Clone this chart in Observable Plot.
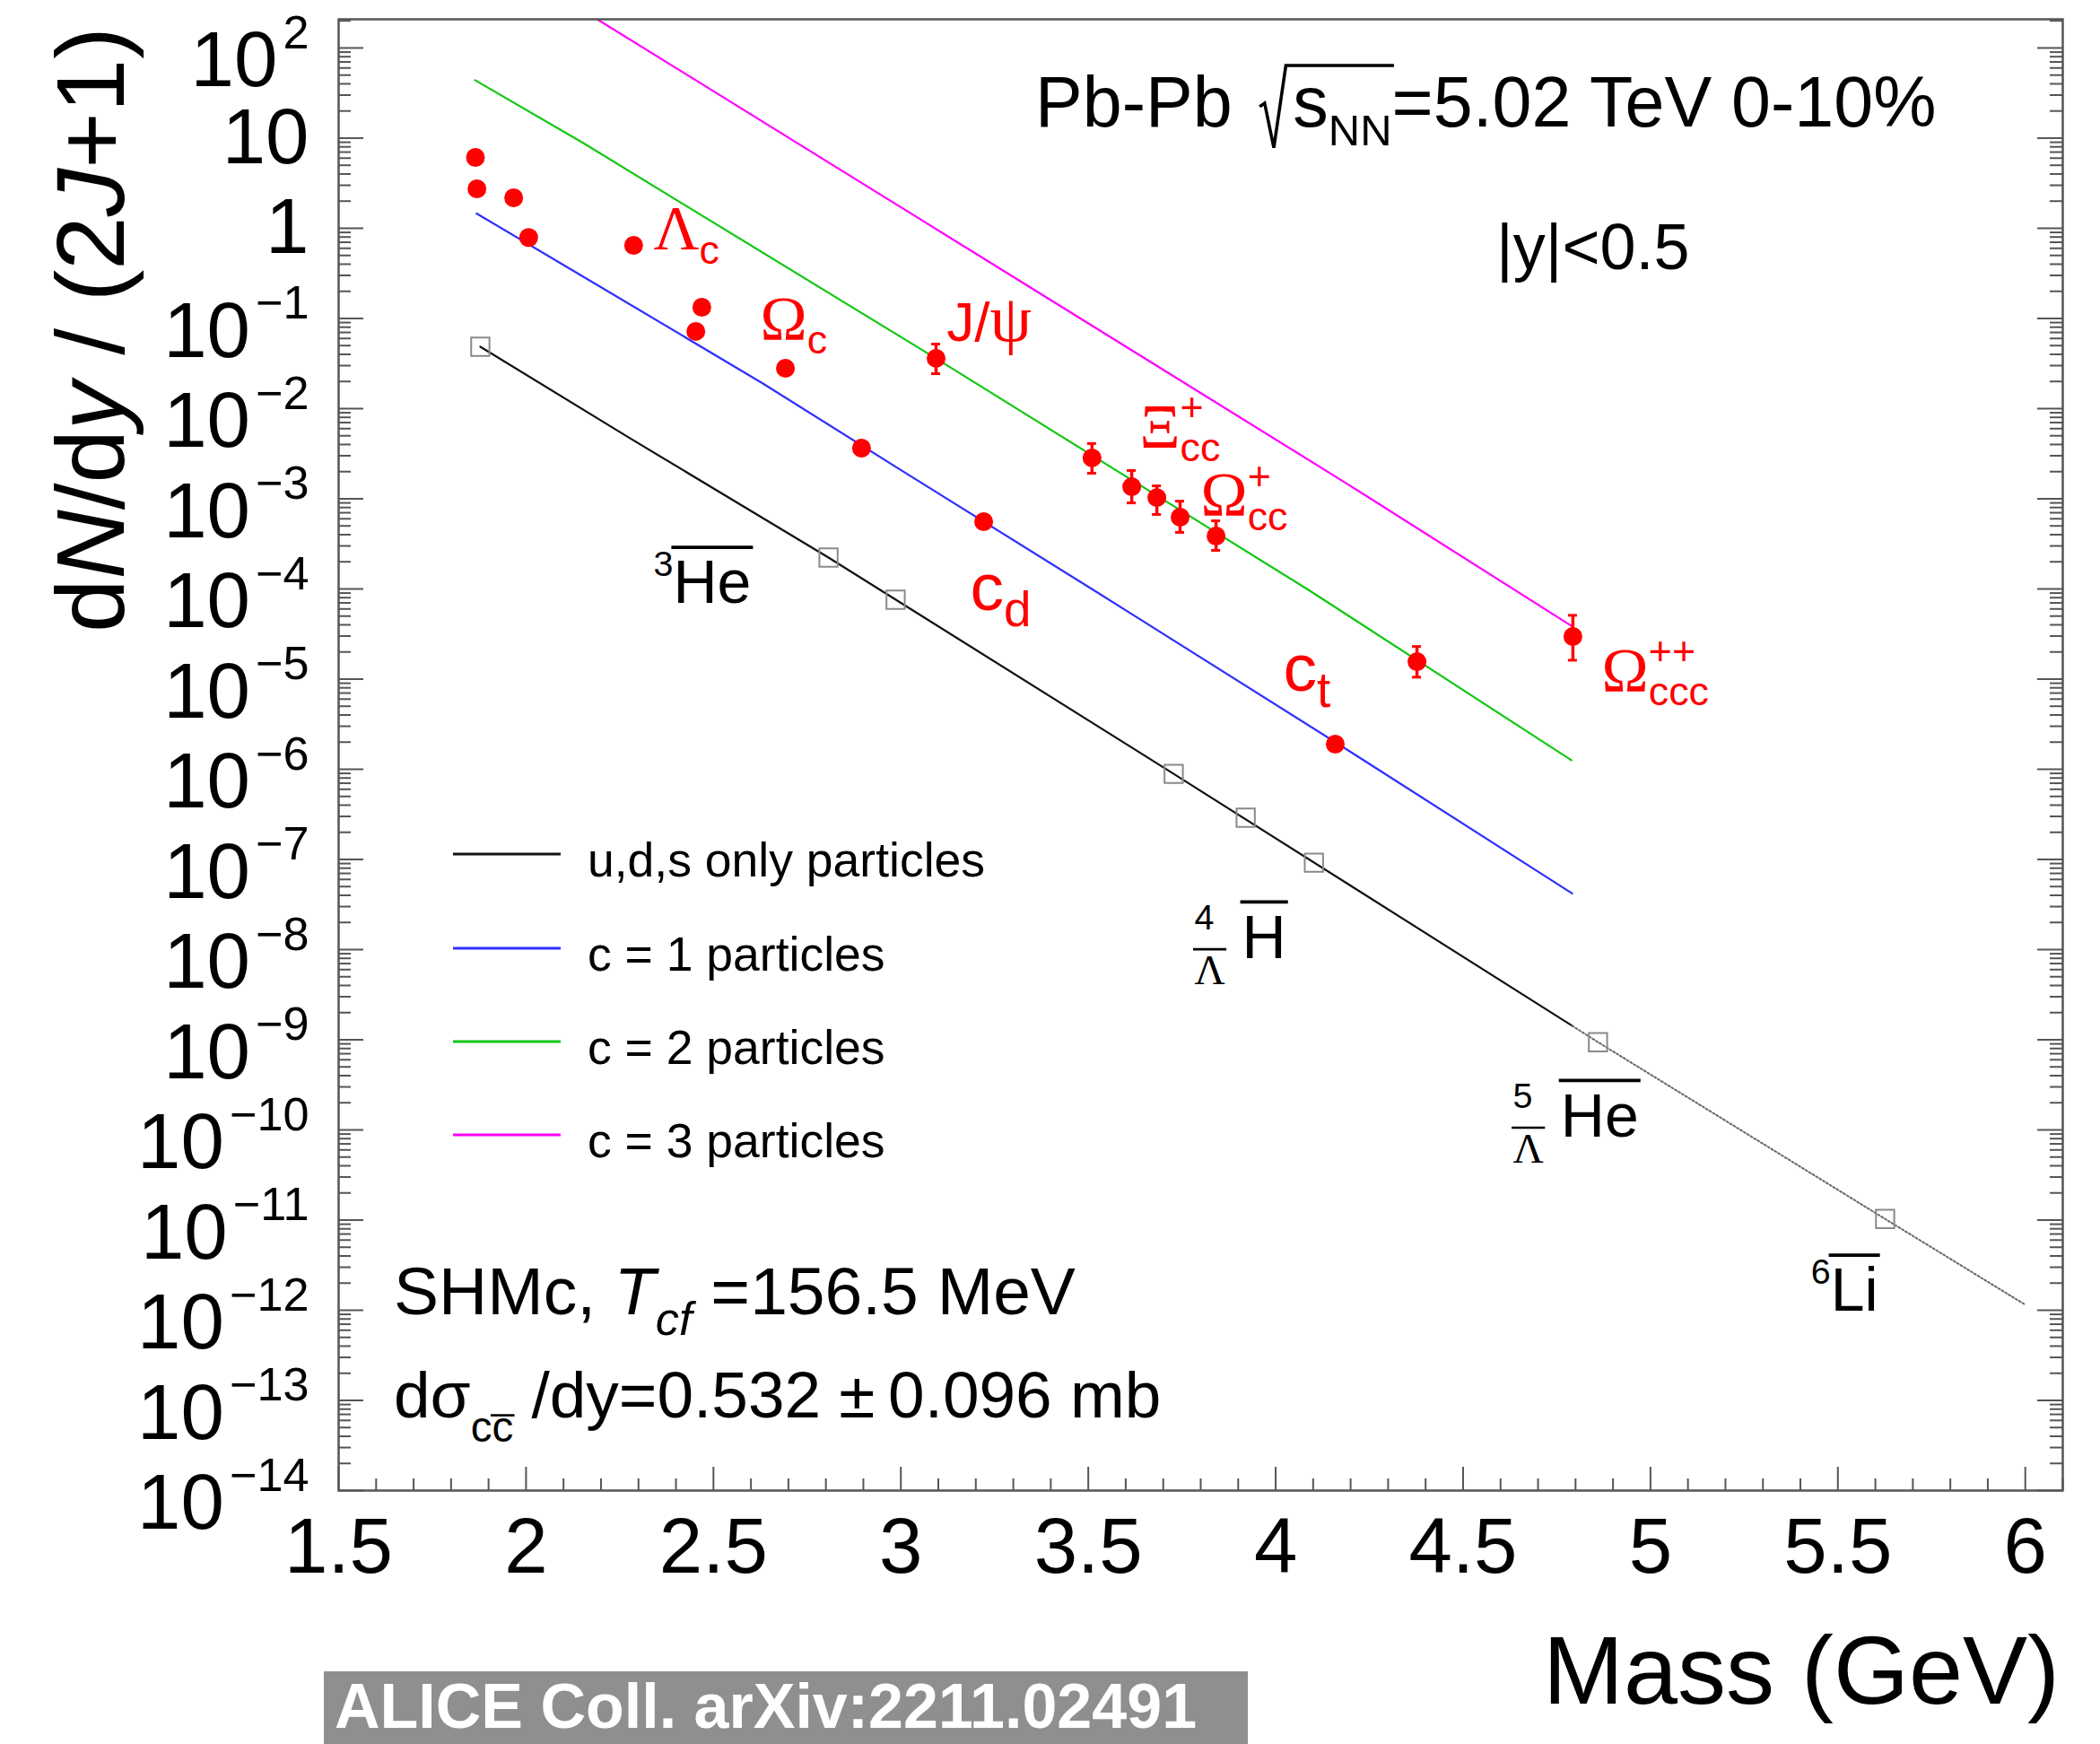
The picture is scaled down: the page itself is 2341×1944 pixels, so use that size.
<!DOCTYPE html>
<html>
<head>
<meta charset="utf-8">
<script src="https://cdn.jsdelivr.net/npm/d3@7"></script>
<script src="https://cdn.jsdelivr.net/npm/@observablehq/plot@0.6"></script>
<style>
html, body { margin: 0; padding: 0; background: #fff; }
#chart { position: relative; width: 2341px; height: 1944px; overflow: hidden; }
</style>
</head>
<body>
<div id="chart"></div>
<script>
// ---------------- data ----------------
// measured hadron yields (red points)
const redMass  = [1.865, 1.869, 1.967, 2.007, 2.287, 2.453, 2.469, 2.692, 2.895, 3.094, 3.221, 3.510, 3.616, 3.683, 3.745, 3.841, 4.159, 4.377, 4.793];
const redValue = [6.1, 2.74, 2.18, 0.79, 0.647, 0.0718, 0.133, 0.028, 3.65e-3, 0.0361, 5.57e-4, 2.84e-3, 1.36e-3, 1.03e-3, 6.25e-4, 3.86e-4, 1.9e-6, 1.56e-5, 2.97e-5];
// error bars
const errMass = [3.094, 3.510, 3.616, 3.683, 3.745, 3.841, 4.377, 4.793];
const errLow  = [0.0244, 1.92e-3, 9.0e-4, 6.7e-4, 4.24e-4, 2.68e-4, 1.05e-5, 1.62e-5];
const errHigh = [0.052, 4.1e-3, 2.06e-3, 1.39e-3, 9.4e-4, 5.7e-4, 2.3e-5, 5.1e-5];
// light (anti)nuclei (open squares)
const nucMass  = [1.878, 2.807, 2.986, 3.728, 3.920, 4.102, 4.860, 5.626];
const nucValue = [0.0486, 2.23e-4, 7.6e-5, 8.9e-7, 2.9e-7, 9.2e-8, 9.4e-10, 1.03e-11];
// model curves
const udsMass     = [1.878, 2.273, 2.807, 3.728, 4.791];
const udsValue    = [0.0486, 4.81e-3, 2.23e-4, 8.9e-7, 1.43e-9];
const udsExtMass  = [4.791, 4.860, 5.626, 5.997];
const udsExtValue = [1.43e-9, 9.4e-10, 1.03e-11, 1.17e-12];
const c1Mass  = [1.868, 2.153, 2.632, 2.991, 3.518, 4.159, 4.791];
const c1Value = [1.46, 0.290, 0.0190, 2.20e-3, 9.5e-5, 2.0e-6, 4.2e-8];
const c2Mass  = [1.864, 2.153, 3.094, 4.092, 4.789];
const c2Value = [43.9, 8.8, 0.036, 9.5e-5, 1.26e-6];
const c3Mass  = [2.190, 3.230, 4.188, 4.789];
const c3Value = [208, 0.438, 1.49e-3, 3.9e-5];
// legend
const legendLabels = ["u,d,s only particles", "c = 1 particles", "c = 2 particles", "c = 3 particles"];
// particle labels
const hadLabelText  = ["Λ_{c}", "Ω_{c}", "J/ψ", "Ξ_{cc}^{+}", "Ω_{cc}^{+}", "c_{d}", "c_{t}", "Ω_{ccc}^{++}"];
const hadLabelMass  = [2.340, 2.625, 3.122, 3.637, 3.800, 3.185, 4.020, 4.870];
const hadLabelValue = [0.577, 0.0583, 0.0560, 3.73e-3, 6.4e-4, 5.9e-5, 7.5e-6, 7.3e-6];
const nucLabelText  = ["^{3}#bar{He}", "^{4}_{#bar{Λ}} #bar{H}", "^{5}_{#bar{Λ}} #bar{He}", "^{6}#bar{Li}"];
const nucLabelMass  = [2.340, 3.783, 4.633, 5.428];
const nucLabelValue = [6.93e-5, 8.1e-9, 8.5e-11, 9.8e-13];
// axis ticks
const xMajor = [1.5, 2, 2.5, 3, 3.5, 4, 4.5, 5, 5.5, 6];
const xMinor = [1.6,1.7,1.8,1.9, 2.1,2.2,2.3,2.4, 2.6,2.7,2.8,2.9, 3.1,3.2,3.3,3.4, 3.6,3.7,3.8,3.9, 4.1,4.2,4.3,4.4, 4.6,4.7,4.8,4.9, 5.1,5.2,5.3,5.4, 5.6,5.7,5.8,5.9, 6.1];
const yExponents = [2, 1, 0, -1, -2, -3, -4, -5, -6, -7, -8, -9, -10, -11, -12, -13, -14];

// ---------------- tables ----------------
const red = redMass.map((m, i) => ({m, v: redValue[i]}));
const errs = errMass.map((m, i) => ({m, lo: errLow[i], hi: errHigh[i]}));
const nuc = nucMass.map((m, i) => ({m, v: nucValue[i]}));
const uds = udsMass.map((m, i) => ({m, v: udsValue[i]}));
const udsExt = udsExtMass.map((m, i) => ({m, v: udsExtValue[i]}));
const c1 = c1Mass.map((m, i) => ({m, v: c1Value[i]}));
const c2 = c2Mass.map((m, i) => ({m, v: c2Value[i]}));
const c3 = c3Mass.map((m, i) => ({m, v: c3Value[i]}));
const hadLabels = hadLabelText.map((t, i) => ({t, m: hadLabelMass[i], v: hadLabelValue[i]}));
const nucLabels = nucLabelText.map((t, i) => ({t, m: nucLabelMass[i], v: nucLabelValue[i]}));
const yMajor = yExponents.map(e => Math.pow(10, e));
const yMinor = [];
for (const e of yExponents) for (let k = 2; k <= 9; k++) { const v = k * Math.pow(10, e); if (v <= 208) yMinor.push(v); }

// ---------------- styles / layout ----------------
const FONT = "'Liberation Sans', Arial, Helvetica, sans-serif";
const SERIF = "'Liberation Serif', 'Times New Roman', serif";
const FRAME = "#555";
const COLORS = ["#111111", "#2f2fff", "#12c812", "#ff00ff"];
const W = 2341, H = 1944;
const mL = 377, mR = 42, mT = 21, mB = 283;
const iW = W - mL - mR, iH = H - mT - mB;

const fmtPow = d => {
  const e = Math.round(Math.log10(d));
  if (e === 0) return "1";
  if (e === 1) return "10";
  return "10^{" + (e < 0 ? "\u2212" + (-e) : e) + "}";
};

const plot = Plot.plot({
  width: W, height: H,
  marginLeft: mL, marginRight: mR, marginTop: mT, marginBottom: mB,
  style: {fontFamily: FONT, fontSize: "87px", color: "#000", background: "transparent", overflow: "visible"},
  x: {domain: [1.5, 6.1], ticks: xMajor, tickFormat: d => String(d), tickSize: 0, tickPadding: 30, label: null},
  y: {type: "log", domain: [1e-14, 208], ticks: yMajor, tickFormat: fmtPow, tickSize: 0, tickPadding: 33, label: null},
  marks: [
    // ticks (ROOT style, inside the frame)
    Plot.tickY(yMajor, {y: d => d, stroke: FRAME, strokeWidth: 2, insetRight: iW - 28}),
    Plot.tickY(yMinor, {y: d => d, stroke: FRAME, strokeWidth: 2, insetRight: iW - 14}),
    Plot.tickY(yMajor, {y: d => d, stroke: FRAME, strokeWidth: 2, insetLeft: iW - 28}),
    Plot.tickY(yMinor, {y: d => d, stroke: FRAME, strokeWidth: 2, insetLeft: iW - 14}),
    Plot.tickX(xMajor, {x: d => d, stroke: FRAME, strokeWidth: 2, insetTop: iH - 26}),
    Plot.tickX(xMinor, {x: d => d, stroke: FRAME, strokeWidth: 2, insetTop: iH - 13}),
    // model curves
    Plot.line(c3, {x: "m", y: "v", stroke: COLORS[3], strokeWidth: 2.2, clip: true}),
    Plot.line(c2, {x: "m", y: "v", stroke: COLORS[2], strokeWidth: 2.2, clip: true}),
    Plot.line(c1, {x: "m", y: "v", stroke: COLORS[1], strokeWidth: 2.2, clip: true}),
    Plot.line(uds, {x: "m", y: "v", stroke: COLORS[0], strokeWidth: 2.2, clip: true}),
    Plot.line(udsExt, {x: "m", y: "v", stroke: "#666", strokeWidth: 2, strokeDasharray: "2,2.5", clip: true}),
    // nuclei
    Plot.dot(nuc, {x: "m", y: "v", symbol: "square", r: 11.5, stroke: "#8a8a8a", strokeWidth: 2, fill: "none"}),
    // error bars
    Plot.ruleX(errs, {x: "m", y1: "lo", y2: "hi", stroke: "red", strokeWidth: 3.5}),
    Plot.ruleY(errs, {y: "lo", x1: "m", x2: "m", insetLeft: -5, insetRight: -5, stroke: "red", strokeWidth: 3}),
    Plot.ruleY(errs, {y: "hi", x1: "m", x2: "m", insetLeft: -5, insetRight: -5, stroke: "red", strokeWidth: 3}),
    // hadron points
    Plot.dot(red, {x: "m", y: "v", r: 10.5, fill: "red", stroke: "none"}),
    Plot.frame({stroke: FRAME, strokeWidth: 2.5}),
    // labels
    Plot.text(hadLabels, {x: "m", y: "v", text: "t", textAnchor: "start", lineAnchor: "bottom", fill: "red", fontSize: 54}),
    Plot.text(nucLabels, {x: "m", y: "v", text: "t", textAnchor: "start", lineAnchor: "bottom", fill: "black", fontSize: 68})
  ]
});

const chart = document.getElementById("chart");
chart.appendChild(plot);
const svg = d3.select(plot);

// ---------------- rich text (sub/superscripts, italics, bars) ----------------
function parseRich(str) {
  const runs = [];
  let id = 0;
  function group(s, i) {
    let depth = 0;
    for (let j = i; j < s.length; j++) {
      if (s[j] === "{") depth++;
      else if (s[j] === "}") { depth--; if (depth === 0) return [s.slice(i + 1, j), j + 1]; }
    }
    return [s.slice(i + 1), s.length];
  }
  function walk(s, st) {
    let buf = "", i = 0;
    const flush = () => { if (buf) { runs.push(Object.assign({}, st, {text: buf})); buf = ""; } };
    while (i < s.length) {
      const c = s[i];
      if ((c === "_" || c === "^") && s[i + 1] === "{") {
        flush();
        const [inner, j] = group(s, i + 1);
        walk(inner, Object.assign({}, st, {script: c === "_" ? "sub" : "sup", block: ++id}));
        i = j;
      } else if (c === "#") {
        const m = /^#(it|bar|sqrt)\{/.exec(s.slice(i));
        if (m) {
          flush();
          const [inner, j] = group(s, i + m[0].length - 1);
          const add = m[1] === "sqrt" ? {sqrt: ++id} : m[1] === "bar" ? {bar: ++id} : {it: true};
          walk(inner, Object.assign({}, st, add));
          i = j;
        } else { buf += c; i++; }
      } else { buf += c; i++; }
    }
    flush();
  }
  walk(str, {});
  const out = [];
  for (const r of runs) {
    for (const p of r.text.split(/([\u0391-\u03C9])/)) {
      if (p) out.push(Object.assign({}, r, {text: p, greek: /^[\u0391-\u03C9]$/.test(p)}));
    }
  }
  return out;
}

const NS = "http://www.w3.org/2000/svg";
function glyphTop(r) {
  if (r.greek) return 0.67;
  if (/[A-Z0-9]/.test(r.text)) return 0.716;
  if (/[bdfhklt]/.test(r.text)) return 0.73;
  return 0.52;
}

function renderRich(el, markup, opts) {
  const o = Object.assign({size: 50, supScale: .7, subScale: .7, supShift: .45, subShift: .3,
    stackSup: .5, stackSub: .45, greekScale: 1, greekSerif: false, dy: 0, sqrtGap: .6,
    barGap: .25, scriptBarGap: .15, supGap: 0}, opts);
  const f = o.size;
  const runs = parseRich(markup);
  const segs = [];
  for (const r of runs) {
    const key = r.block || 0;
    const last = segs[segs.length - 1];
    if (last && last.key === key) last.runs.push(r);
    else segs.push({key, type: r.script || null, runs: [r]});
  }
  for (let k = 1; k < segs.length; k++) {
    if (segs[k].type && segs[k - 1].type && segs[k].type !== segs[k - 1].type) {
      segs[k].stackOn = segs[k - 1]; segs[k].stacked = true; segs[k - 1].stacked = true;
    }
  }
  el.textContent = "";
  let cur = 0;
  const sqrtSeen = new Set();
  segs.forEach((seg, k) => {
    seg.tspans = [];
    seg.runs.forEach((r, ri) => {
      const t = document.createElementNS(NS, "tspan");
      let size = f;
      if (r.script === "sub") size *= o.subScale; else if (r.script === "sup") size *= o.supScale;
      if (r.greek) size *= o.greekScale;
      let shift = o.dy;
      if (r.script === "sub") shift += (seg.stacked ? o.stackSub : o.subShift) * f;
      if (r.script === "sup") shift -= (seg.stacked ? o.stackSup : o.supShift) * f;
      t.setAttribute("font-size", size);
      if (shift !== cur) t.setAttribute("dy", shift - cur);
      cur = shift;
      if (r.it) t.setAttribute("font-style", "italic");
      if (r.greek && o.greekSerif) t.setAttribute("font-family", SERIF);
      if (r.sqrt && !sqrtSeen.has(r.sqrt)) { sqrtSeen.add(r.sqrt); t.setAttribute("dx", o.sqrtGap * f); }
      if (ri === 0 && r.script === "sup" && k > 0 && o.supGap) t.setAttribute("dx", o.supGap * f);
      t.textContent = r.text;
      el.appendChild(t);
      r.el = t; r.size = size; r.shift = shift;
      seg.tspans.push(t);
    });
  });
  const segWidth = seg => seg.tspans.reduce((s, t) => s + t.getComputedTextLength(), 0);
  segs.forEach((seg, k) => {
    if (seg.stackOn) {
      const w1 = segWidth(seg.stackOn), w2 = segWidth(seg);
      seg.tspans[0].setAttribute("dx", -w1);
      const next = segs[k + 1];
      if (next && w1 > w2) {
        const t = next.tspans[0];
        t.setAttribute("dx", (+t.getAttribute("dx") || 0) + (w1 - w2));
      }
    }
  });
  // decorations: bars and radicals
  const parent = el.parentNode;
  const tr = el.getAttribute("transform");
  const color = getComputedStyle(el).fill;
  const groups = new Map();
  for (const r of runs) {
    if (r.bar) { if (!groups.has("b" + r.bar)) groups.set("b" + r.bar, []); groups.get("b" + r.bar).push(r); }
    if (r.sqrt) { if (!groups.has("s" + r.sqrt)) groups.set("s" + r.sqrt, []); groups.get("s" + r.sqrt).push(r); }
  }
  for (const [key, rs] of groups) {
    const a = rs[0].el.getStartPositionOfChar(0);
    const lr = rs[rs.length - 1];
    const b = lr.el.getEndPositionOfChar(lr.text.length - 1);
    const p = document.createElementNS(NS, "path");
    let d;
    if (key[0] === "b") {
      const sz = Math.max(...rs.map(r => r.size));
      const top = Math.max(...rs.map(r => glyphTop(r) * r.size));
      const gap = (rs[0].script ? o.scriptBarGap : o.barGap) * sz;
      const y = a.y - top - gap;
      d = `M${a.x - 0.03 * sz},${y}H${b.x + 0.03 * sz}`;
      p.setAttribute("stroke-width", Math.max(2, 0.055 * sz));
    } else {
      const yb = a.y - rs[0].shift + o.dy;
      const x0 = a.x;
      d = `M${x0 - 0.47 * f},${yb - 0.28 * f}L${x0 - 0.40 * f},${yb - 0.33 * f}L${x0 - 0.27 * f},${yb + 0.3 * f}` +
          `L${x0 - 0.1 * f},${yb - 0.86 * f}H${b.x + 0.03 * f}`;
      p.setAttribute("stroke-width", Math.max(2, 0.045 * f));
    }
    p.setAttribute("d", d);
    p.setAttribute("fill", "none");
    p.setAttribute("stroke", color);
    if (tr) p.setAttribute("transform", tr);
    parent.insertBefore(p, el.nextSibling);
  }
}

// axis tick labels and particle labels drawn by Plot: rebuild their markup
const hadSet = new Set(hadLabelText), nucSet = new Set(nucLabelText);
const hadStyle = {
  default: {size: 54, subScale: 0.83, supScale: 0.83, subShift: 0.28, supShift: 0.55, stackSub: 0.28, stackSup: 0.55, greekScale: 1.3, greekSerif: true},
  "J/ψ": {size: 62, greekScale: 1.2, greekSerif: true},
  "c_{d}": {size: 75, subScale: 0.73, subShift: 0.24},
  "c_{t}": {size: 75, subScale: 0.73, subShift: 0.24}
};
const plotTexts = Array.from(plot.querySelectorAll("text"));
for (const el of plotTexts) {
  const s = el.textContent;
  if (/^10\^\{/.test(s)) {
    renderRich(el, s, {size: 87, supScale: 0.6, supShift: 0.49, dy: 15, supGap: 0.07});
  } else if (hadSet.has(s)) {
    renderRich(el, s, hadStyle[s] || hadStyle.default);
  } else if (nucSet.has(s)) {
    renderRich(el, s, {size: 68, subScale: 0.58, supScale: 0.58, supShift: 0.45,
      stackSup: 0.46, stackSub: 0.43, greekScale: 1.2, greekSerif: true, barGap: 0.2});
  }
}

// ---------------- annotations (layout text) ----------------
const ann = svg.append("g").attr("font-family", FONT);
function addText(markup, x, y, size, o = {}) {
  const t = ann.append("text")
    .attr("fill", o.fill || "#000")
    .attr("font-size", size)
    .attr("text-anchor", o.anchor || "start")
    .attr("font-weight", o.weight || null)
    .attr("transform", o.rotate ? `translate(${x},${y}) rotate(${o.rotate})` : `translate(${x},${y})`);
  t.text(markup);
  renderRich(t.node(), markup, Object.assign({size}, o.rich || {}));
  return t;
}
addText("d#it{N}/d#it{y} / (2#it{J}+1)", 138, 30, 107, {rotate: -90, anchor: "end"});
addText("Mass (GeV)", 2296, 1899, 108, {anchor: "end"});
addText("Pb-Pb #sqrt{s_{NN}}=5.02 TeV 0-10%", 1154, 141, 79, {rich: {subScale: 0.62, subShift: 0.27, sqrtGap: 0.58}});
addText("|y|<0.5", 1668, 300, 72);
addText("SHMc, #it{T}_{#it{cf}} =156.5 MeV", 439, 1465, 75, {rich: {subScale: 0.7, subShift: 0.3}});
addText("dσ_{c#bar{c}} /dy=0.532 ±\u20090.096 mb", 439, 1580, 73, {rich: {subScale: 0.65, subShift: 0.37, scriptBarGap: 0.1}});

// legend
const legendY = [952, 1057, 1161, 1265];
legendLabels.forEach((lab, i) => {
  ann.append("line").attr("x1", 505).attr("x2", 625).attr("y1", legendY[i]).attr("y2", legendY[i])
    .attr("stroke", COLORS[i]).attr("stroke-width", 3.2);
  addText(lab, 655, legendY[i] + 25, 53.5);
});

// source box
ann.append("rect").attr("x", 361).attr("y", 1863).attr("width", 1030).attr("height", 81).attr("fill", "#8f8f8f");
addText("ALICE Coll. arXiv:2211.02491", 373, 1926, 70, {fill: "#fff", weight: "bold"});
</script>
</body>
</html>
